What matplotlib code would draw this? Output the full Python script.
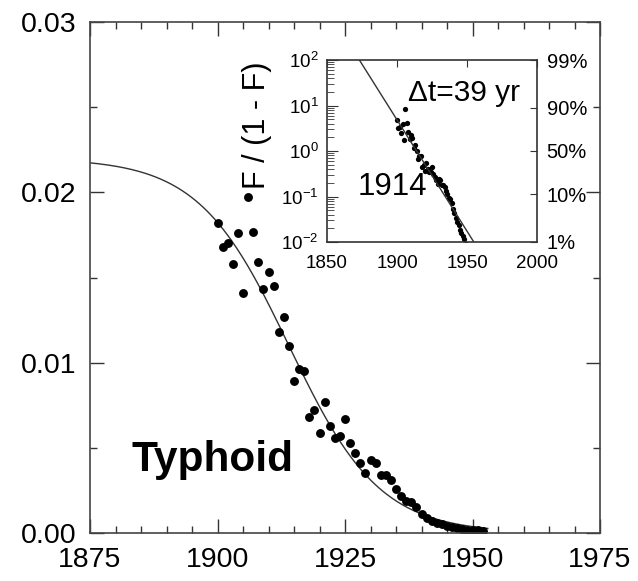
import numpy as np
import matplotlib
matplotlib.use('Agg')
import matplotlib.pyplot as plt
from matplotlib.ticker import MultipleLocator, FixedLocator, FixedFormatter, FormatStrFormatter, LogLocator, NullFormatter

plt.rcParams['font.family'] = ['Liberation Sans', 'DejaVu Sans']
plt.rcParams['mathtext.fontset'] = 'custom'
plt.rcParams['mathtext.rm'] = 'Liberation Sans'
plt.rcParams['mathtext.it'] = 'Liberation Sans'

years = list(range(1900, 1953))
share = [0.0182, 0.0168, 0.0170, 0.0158, 0.0176, 0.0141, 0.0197, 0.0177, 0.0159, 0.0143,
         0.0153, 0.0145, 0.0118, 0.0127, 0.0110, 0.0089, 0.0096, 0.0095, 0.0068, 0.0072,
         0.0059, 0.0077, 0.0063, 0.0056, 0.0057, 0.0067, 0.0053, 0.0047, 0.0041, 0.0035,
         0.0043, 0.0041, 0.0034, 0.0034, 0.0031, 0.0026, 0.0022, 0.0019, 0.0018, 0.0015,
         0.0011, 0.0009, 0.0007, 0.0006, 0.0005, 0.0004, 0.00035, 0.0003, 0.00025, 0.0002,
         0.00018, 0.00015, 0.00012]

# logistic fit parameters shown on the chart
saturation = 0.022
midpoint = 1914
delta_t = 39

pct_labels = ['99%', '90%', '50%', '10%', '1%']
pct_values = [0.99, 0.90, 0.50, 0.10, 0.01]

years = np.array(years, dtype=float)
share = np.array(share)
k = np.log(81) / delta_t

fig = plt.figure(figsize=(6.38, 5.81), dpi=100)
ax = fig.add_axes([90/638, 1-533/581, 510/638, 511/581])

t = np.linspace(1875, 1953, 300)
ax.plot(t, saturation / (1 + np.exp(k * (t - midpoint))), color='#333333', lw=1.0)
ax.plot(years, share, 'o', color='black', ms=6.4, mec='none')

ax.set_xlim(1875, 1975)
ax.set_ylim(0, 0.03)
ax.xaxis.set_major_locator(MultipleLocator(25))
ax.xaxis.set_minor_locator(MultipleLocator(5))
ax.yaxis.set_major_locator(MultipleLocator(0.01))
ax.yaxis.set_minor_locator(MultipleLocator(0.005))
ax.yaxis.set_major_formatter(FormatStrFormatter('%.2f'))
ax.tick_params(which='both', direction='in', top=True, right=True, color='#333333')
ax.tick_params(which='major', length=10, width=1.0, pad=10, labelsize=20.5)
ax.tick_params(which='minor', length=5, width=1.0)
for s in ax.spines.values():
    s.set_color('#444444')
    s.set_linewidth(1.2)

ax.text(0.082, 0.143, 'Typhoid', transform=ax.transAxes, fontsize=30.5,
        fontweight='bold', va='center', ha='left')

# inset: F/(1-F) on log scale
ins = fig.add_axes([327/638, 1-242/581, 210/638, 182/581])
F = share / saturation
mask = (F > 0) & (F < 1)
ins.plot(years[mask], F[mask] / (1 - F[mask]), 'o', color='black', ms=3.8, mec='none')
t2 = np.linspace(1860, 1970, 200)
ins.plot(t2, np.exp(-k * (t2 - midpoint)), color='#333333', lw=1.0)
ins.set_yscale('log')
ins.set_xlim(1850, 2000)
ins.set_ylim(1e-2, 1e2)
ins.xaxis.set_major_locator(FixedLocator([1850, 1900, 1950, 2000]))
ins.yaxis.set_major_locator(LogLocator(base=10, numticks=10))
ins.yaxis.set_minor_locator(LogLocator(base=10, subs=np.arange(2, 10), numticks=10))
ins.yaxis.set_minor_formatter(NullFormatter())
ins.tick_params(which='both', direction='in', top=True, labelsize=13.5, pad=6, color='#333333')
ins.tick_params(axis='x', which='major', length=5, bottom=False, pad=9)
ins.tick_params(axis='y', which='major', length=8)
ins.tick_params(axis='y', which='minor', length=5)
ins.set_ylabel('F / (1 - F)', fontsize=22)
ins.yaxis.set_label_coords(-0.26, 0.64)
for s in ins.spines.values():
    s.set_color('#333333')
    s.set_linewidth(1.2)

sec = ins.twinx()
sec.set_yscale('log')
sec.set_ylim(1e-2, 1e2)
sec.yaxis.set_major_locator(FixedLocator([p / (1 - p) for p in pct_values]))
sec.yaxis.set_major_formatter(FixedFormatter(pct_labels))
sec.yaxis.set_minor_locator(FixedLocator([]))
sec.tick_params(direction='in', length=5, labelsize=14.5, pad=7, color='#333333')
for s in sec.spines.values():
    s.set_visible(False)

ins.text(0.386, 0.82, '\u0394t=39 yr', transform=ins.transAxes, fontsize=21.5,
         va='center', ha='left')
ins.text(0.148, 0.30, str(midpoint), transform=ins.transAxes, fontsize=22.5,
         va='center', ha='left')

fig.savefig('out.png', dpi=100)
